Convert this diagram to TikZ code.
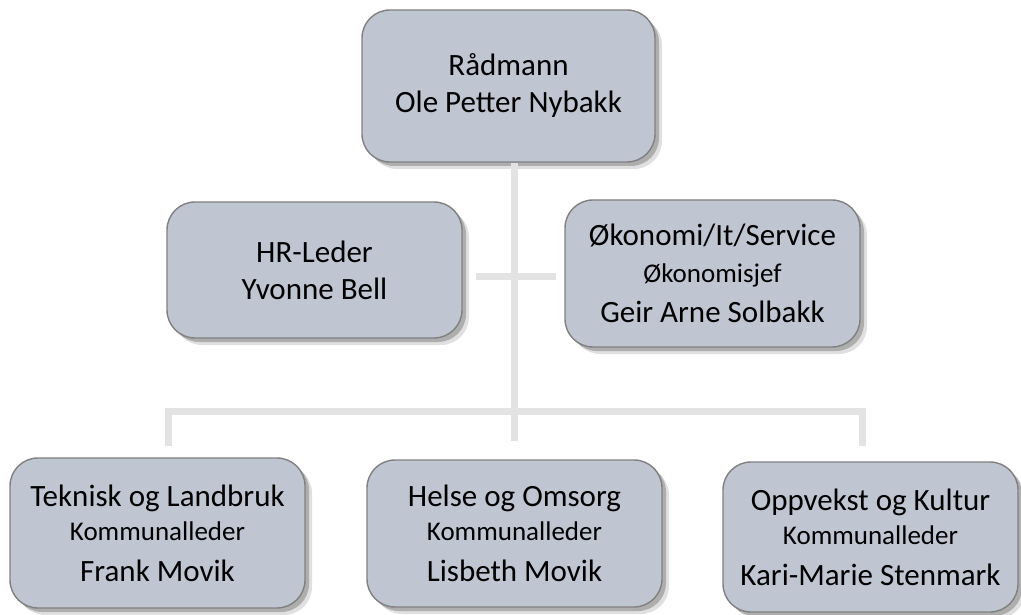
\documentclass[tikz,border=0pt]{standalone}
\usepackage{fontspec}
\setmainfont{Carlito}
\usetikzlibrary{shadows}
\definecolor{boxfill}{RGB}{192,197,210}
\definecolor{boxline}{RGB}{128,128,128}
\definecolor{linkgray}{RGB}{227,227,227}
\newcommand{\orgbig}{\fontsize{31}{37}\selectfont}
\newcommand{\orgsub}{\fontsize{27}{35}\selectfont}
\tikzset{
  unit/.style={draw=boxline, line width=1.4pt, fill=boxfill, rounded corners=28pt,
    minimum width=295pt, inner sep=0pt, align=center, font=\orgbig,
    drop shadow={shadow xshift=7pt, shadow yshift=-7pt, fill=black, opacity=0.12},
    drop shadow={shadow xshift=4pt, shadow yshift=-4pt, fill=black, opacity=0.22}},
  link/.style={draw=linkgray, line width=7pt}
}

\begin{document}
\begin{tikzpicture}[x=1pt,y=-1pt]
\useasboundingbox[fill=white] (0,0) rectangle (1021,615);
% boxes
\node[unit, minimum width=293pt, minimum height=152pt] (top) at (508.5,86)
  {Rådmann\\Ole Petter Nybakk};
\node[unit, minimum height=136pt] (hr) at (314.5,270)
  {HR-Leder\\Yvonne Bell};
\node[unit, minimum height=147pt] (oek) at (712.5,273.5)
  {Økonomi/It/Service\\[0pt]{\orgsub Økonomisjef}\\[3pt]Geir Arne Solbakk};
\node[unit, minimum height=150pt] (tek) at (157.5,533)
  {Teknisk og Landbruk\\[-3pt]{\orgsub Kommunalleder}\\[4pt]Frank Movik};
\node[unit, minimum height=147pt] (hels) at (514.5,533.5)
  {Helse og Omsorg\\[-3pt]{\orgsub Kommunalleder}\\[4pt]Lisbeth Movik};
\node[unit, minimum height=150pt] (opp) at (870.5,537)
  {Oppvekst og Kultur\\[-3pt]{\orgsub Kommunalleder}\\[4pt]Kari-Marie Stenmark};
% lines
\coordinate (hub) at (514.5,276);
\coordinate (busL) at (168,411);
\coordinate (busR) at (862,411);
\coordinate (endL) at (168,446);
\coordinate (endM) at (514.5,441);
\coordinate (endR) at (862,446);
\draw[link] (top.south -| endM) -- (endM);
\draw[link, shorten <=13pt, shorten >=8pt] (hr.east |- hub) -- (oek.west |- hub);
\draw[link] (endL) -- (busL) -- (busR) -- (endR);
\end{tikzpicture}
\end{document}
